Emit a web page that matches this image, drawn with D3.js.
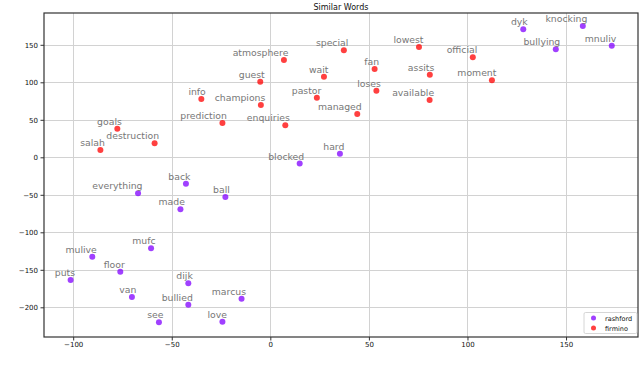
<!DOCTYPE html>
<html>
<head>
<meta charset="utf-8">
<script src="https://cdn.jsdelivr.net/npm/d3@7"></script>
<style>
  body { margin: 0; background: #fff; }
  svg { display: block; font-family: "DejaVu Sans", sans-serif; }
</style>
</head>
<body>
<svg id="chart" width="640" height="370"></svg>
<script>
'use strict';

// words, one array per series
const rashfordWords = ["dyk", "knocking", "bullying", "mnuliv", "hard", "blocked", "back", "ball",
  "everything", "made", "mufc", "mulive", "floor", "puts", "dijk", "van", "marcus", "bullied", "see", "love"];
const rashfordX = [128.3, 158.5, 144.8, 173.2, 35.3, 14.9, -42.8, -22.8, -67.1, -45.6, -60.5, -90.3, -76.1, -101.3, -41.6, -70.2, -14.6, -41.6, -56.5, -24.3];
const rashfordY = [170.7, 175.1, 144, 148.8, 4.8, -8.3, -35.2, -52.9, -48, -69.3, -121.3, -132.5, -152.5, -163.6, -168, -186.3, -188.5, -196.5, -220, -219.2];

const firminoWords = ["special", "lowest", "atmosphere", "official", "fan", "wait", "assits", "moment",
  "guest", "loses", "pastor", "info", "available", "champions", "managed", "prediction", "enquiries",
  "goals", "destruction", "salah"];
const firminoX = [37.3, 75.4, 6.9, 102.7, 52.9, 27.2, 80.9, 112.4, -5.1, 53.8, 23.6, -35, 80.8, -4.8, 44.1, -24.3, 7.6, -77.6, -58.7, -86.2];
const firminoY = [142.7, 147, 129.7, 133.3, 117.7, 107.5, 110.1, 102.7, 100.8, 88.8, 79.5, 77.7, 76.4, 69.7, 57.7, 45.7, 42.7, 38.1, 18.7, 9.7];

const xTicks = [-100, -50, 0, 50, 100, 150];
const yTicks = [-200, -150, -100, -50, 0, 50, 100, 150];

const series = [
  { name: "rashford", color: "#8000ff", words: rashfordWords, xs: rashfordX, ys: rashfordY },
  { name: "firmino", color: "#ff0000", words: firminoWords, xs: firminoX, ys: firminoY }
];

const PLOT_LEFT = 44, PLOT_TOP = 13, PLOT_RIGHT = 638, PLOT_BOTTOM = 337;

const x = d3.scaleLinear().domain([-114.8, 186.5]).range([PLOT_LEFT, PLOT_RIGHT]);
const y = d3.scaleLinear().domain([-239.6, 192.4]).range([PLOT_BOTTOM, PLOT_TOP]);

const svg = d3.select("#chart");

svg.append("text")
  .attr("x", (PLOT_LEFT + PLOT_RIGHT) / 2)
  .attr("y", 10)
  .attr("text-anchor", "middle")
  .attr("font-size", 8)
  .attr("fill", "#111")
  .text("Similar Words");

// grid
const grid = svg.append("g").attr("stroke", "#d2d2d2").attr("stroke-width", 1);
grid.selectAll("line.v").data(xTicks).enter().append("line")
  .attr("x1", d => Math.round(x(d)) + 0.5).attr("x2", d => Math.round(x(d)) + 0.5)
  .attr("y1", PLOT_TOP).attr("y2", PLOT_BOTTOM);
grid.selectAll("line.h").data(yTicks).enter().append("line")
  .attr("y1", d => Math.round(y(d)) + 0.5).attr("y2", d => Math.round(y(d)) + 0.5)
  .attr("x1", PLOT_LEFT).attr("x2", PLOT_RIGHT);

// axes
const axisX = svg.append("g")
  .attr("transform", `translate(0,${PLOT_BOTTOM})`)
  .call(d3.axisBottom(x).tickValues(xTicks).tickSize(3.5).tickPadding(2).tickFormat(d3.format("d")));
const axisY = svg.append("g")
  .attr("transform", `translate(${PLOT_LEFT},0)`)
  .call(d3.axisLeft(y).tickValues(yTicks).tickSize(3.5).tickPadding(2.5).tickFormat(d3.format("d")));
[axisX, axisY].forEach(a => {
  a.select(".domain").remove();
  a.selectAll("text").attr("font-size", 7).attr("font-family", "DejaVu Sans").attr("fill", "#111");
  a.selectAll("line").attr("stroke", "#333");
});

// frame
svg.append("rect")
  .attr("x", PLOT_LEFT).attr("y", PLOT_TOP)
  .attr("width", PLOT_RIGHT - PLOT_LEFT).attr("height", PLOT_BOTTOM - PLOT_TOP)
  .attr("fill", "none").attr("stroke", "#333").attr("stroke-width", 1.2);

// points + labels
series.forEach(s => {
  const g = svg.append("g");
  const pts = s.words.map((w, i) => ({ w, x: s.xs[i], y: s.ys[i] }));
  g.selectAll("circle").data(pts).enter().append("circle")
    .attr("cx", d => x(d.x)).attr("cy", d => y(d.y)).attr("r", 3)
    .attr("fill", s.color).attr("fill-opacity", 0.75);
  g.selectAll("text").data(pts).enter().append("text")
    .attr("x", d => x(d.x) + 4.5).attr("y", d => y(d.y) - 4)
    .attr("text-anchor", "end")
    .attr("font-size", 9.3)
    .attr("fill", "#777")
    .text(d => d.w);
});

// legend
const legend = svg.append("g").attr("transform", "translate(584,312.5)");
legend.append("rect")
  .attr("width", 53).attr("height", 21).attr("rx", 1.5)
  .attr("fill", "#fff").attr("stroke", "#ccc").attr("stroke-width", 0.8);
const li = legend.selectAll("g.item").data(series).enter().append("g")
  .attr("transform", (d, i) => `translate(0,${5.5 + i * 10})`);
li.append("circle").attr("cx", 9.5).attr("cy", 0).attr("r", 2.5)
  .attr("fill", d => d.color).attr("fill-opacity", 0.75);
li.append("text").attr("x", 21).attr("y", 2.5).attr("font-size", 6.5).attr("fill", "#111")
  .text(d => d.name);
</script>
</body>
</html>
